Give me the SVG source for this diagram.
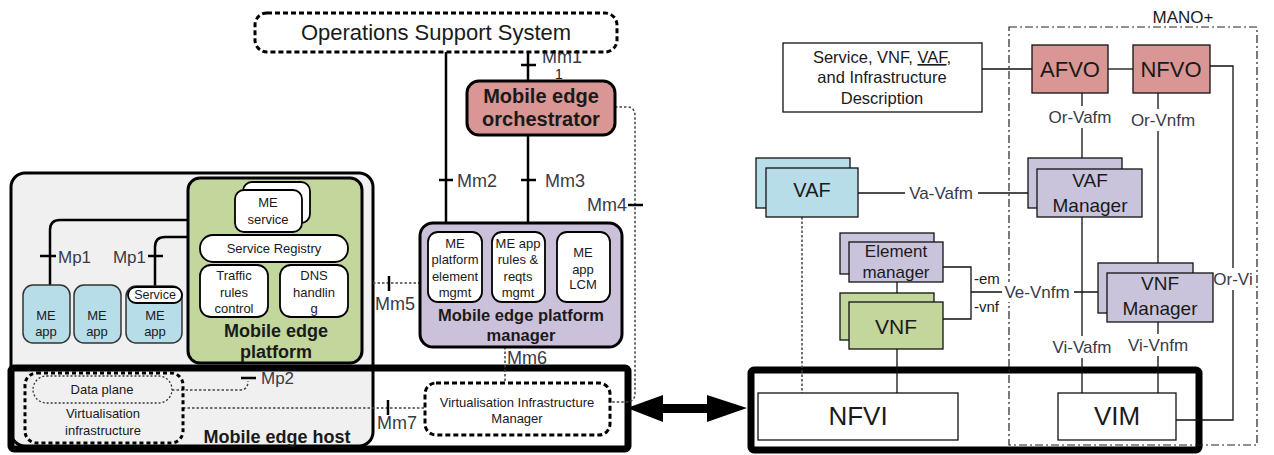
<svg xmlns="http://www.w3.org/2000/svg" width="1274" height="455" viewBox="0 0 1274 455">
<style>
text{font-family:"Liberation Sans",Arial,sans-serif;fill:#1a1a1a}
.lbl{font-size:18px;fill:#3a3a48}
.lbs{font-size:17px;fill:#3a3a48}
.rl{font-size:17px;fill:#3a3a48}
.b{font-weight:bold}
.c{text-anchor:middle}
.th{stroke:#000;stroke-width:2.5;fill:none}
.tn{stroke:#111;stroke-width:1.3;fill:none}
.dot{stroke:#444;stroke-width:1.5;fill:none;stroke-dasharray:2.5,2}
.wb{fill:#fff;stroke:#000;stroke-width:1.8}
.app{fill:#b7dde8;stroke:#333;stroke-width:1.5}
.lav{fill:#c9c4dc;stroke:#111;stroke-width:1.3}
.grn{fill:#c3d69b;stroke:#111;stroke-width:1.3}
.sal{fill:#d99694;stroke:#111;stroke-width:1.3}
.wr{fill:#fff;stroke:#111;stroke-width:1.3}
.bg{fill:#fff}
</style>

<!-- Mobile edge host background -->
<g id="me-host">
<rect x="11" y="173" width="362" height="273" rx="14" fill="#f0f0f0" stroke="#000" stroke-width="3"/>
<rect x="11" y="368" width="617" height="81" rx="3" fill="none" stroke="#000" stroke-width="7"/>
<text x="277" y="443" class="b c" font-size="18">Mobile edge host</text>
</g>

<g id="nfv-box">
<rect x="751" y="370" width="448" height="80" rx="3" fill="none" stroke="#000" stroke-width="7"/>
</g>

<g id="mano">
<rect x="1009" y="27" width="248" height="418" fill="none" stroke="#222" stroke-width="1.2" stroke-dasharray="8,3,2,3"/>
<text x="1183" y="23" class="c" font-size="17" fill="#222">MANO+</text>
</g>

<!-- connectors -->
<g id="connectors">
<!-- Mp1 -->
<path class="th" d="M188,220 H60 Q50,220 50,230 V286"/>
<line class="th" x1="40" y1="256" x2="56" y2="256"/>
<text x="58" y="263" class="lbs">Mp1</text>
<path class="th" d="M188,237 H165 Q155,237 155,247 V288"/>
<line class="th" x1="148" y1="256" x2="163" y2="256"/>
<text x="146" y="263" class="lbs" text-anchor="end">Mp1</text>
<!-- Mm1 -->
<line class="th" x1="528" y1="52" x2="528" y2="80"/>
<line class="th" x1="521" y1="65" x2="536" y2="65"/>
<text x="542" y="63" class="lbl">Mm1</text>
<text x="555" y="79" font-size="14" fill="#3a3a48">1</text>
<!-- Mm2 -->
<line class="th" x1="446" y1="52" x2="446" y2="224"/>
<line class="th" x1="439" y1="180" x2="453" y2="180"/>
<text x="457" y="187" class="lbl">Mm2</text>
<!-- Mm3 -->
<line class="th" x1="528" y1="135" x2="528" y2="224"/>
<line class="th" x1="521" y1="180" x2="536" y2="180"/>
<text x="545" y="187" class="lbl">Mm3</text>
<!-- Mm4 -->
<path class="dot" d="M615,107 H627 Q635,107 635,116 V393 Q635,402 626,402 H610"/>
<line class="th" x1="628" y1="205" x2="643" y2="205"/>
<text x="627" y="211" class="lbl" text-anchor="end">Mm4</text>
<!-- Mm5 -->
<path class="dot" d="M373,283 H420"/>
<line class="th" x1="389" y1="276" x2="389" y2="291"/>
<text x="375" y="310" class="lbl">Mm5</text>
<!-- Mm6 -->
<path class="dot" d="M505,347 V383"/>
<text x="507" y="364" class="lbl">Mm6</text>
<!-- Mm7 -->
<path class="dot" d="M183,408 H425"/>
<line class="th" x1="388" y1="400" x2="388" y2="415"/>
<text x="377" y="429" class="lbl">Mm7</text>
<!-- Mp2 -->
<path class="dot" d="M172,390 H240 Q248,390 248,381"/>
<line class="th" x1="241" y1="378" x2="256" y2="378"/>
<text x="261" y="384" class="lbs">Mp2</text>
<!-- double arrow -->
<polygon points="627,408 663,395 663,404 707,404 707,395 747,408 707,422 707,413 663,413 663,422" fill="#000"/>

<!-- right side -->
<path class="tn" d="M982,69 H1032"/>
<path class="tn" d="M1108,69 H1133"/>
<path class="tn" d="M1210,66 H1233 V420 H1176"/>
<rect class="bg" x="1211" y="268" width="44" height="22"/>
<text x="1233" y="285" class="rl c">Or-Vi</text>
<path class="tn" d="M1082,93 V169"/>
<rect class="bg" x="1045" y="106" width="70" height="22"/>
<text x="1080" y="123" class="rl c">Or-Vafm</text>
<path class="tn" d="M1158,93 V273"/>
<rect class="bg" x="1128" y="109" width="70" height="22"/>
<text x="1163" y="126" class="rl c">Or-Vnfm</text>
<path class="tn" d="M858,193 H1028"/>
<rect class="bg" x="905" y="183" width="73" height="20"/>
<text x="941" y="199" class="rl c">Va-Vafm</text>
<path class="tn" d="M1082,217 V393"/>
<rect class="bg" x="1048" y="336" width="68" height="22"/>
<text x="1082" y="353" class="rl c">Vi-Vafm</text>
<path class="tn" d="M1158,322 V393"/>
<rect class="bg" x="1125" y="334" width="67" height="22"/>
<text x="1158" y="351" class="rl c">Vi-Vnfm</text>
<path class="dot" d="M802,217 V393" stroke-dasharray="3,2"/>
<path class="tn" d="M897,282 V302"/>
<path class="tn" d="M897,349 V393"/>
<path class="tn" d="M943,267 H971 V319 H943"/>
<path class="tn" d="M971,292 H1098"/>
<rect class="bg" x="1002" y="282" width="72" height="20"/>
<text x="1037" y="298" class="rl c">Ve-Vnfm</text>
<text x="974" y="284" font-size="15" fill="#3a3a48">-em</text>
<text x="974" y="312" font-size="15" fill="#3a3a48">-vnf</text>
</g>

<g id="oss">
<rect x="255" y="13" width="362" height="39" rx="12" fill="none" stroke="#000" stroke-width="3" stroke-dasharray="5,3"/>
<text x="436" y="40" class="c" font-size="22">Operations Support System</text>
</g>

<g id="meo">
<rect x="467" y="81" width="148" height="54" rx="12" fill="#d99694" stroke="#000" stroke-width="3"/>
<text x="541" y="103" class="b c" font-size="20">Mobile edge</text>
<text x="541" y="126" class="b c" font-size="20">orchestrator</text>
</g>

<g id="me-platform">
<rect x="188" y="178" width="174" height="185" rx="12" fill="#c3d69b" stroke="#000" stroke-width="3"/>
<text x="276" y="337" class="b c" font-size="18">Mobile edge</text>
<text x="276" y="358" class="b c" font-size="18">platform</text>
</g>

<g id="me-service">
<rect class="wb" x="243" y="182" width="67" height="41" rx="9"/>
<rect class="wb" x="235" y="190" width="67" height="42" rx="9"/>
<text x="268" y="207" class="c" font-size="13">ME</text>
<text x="268" y="224" class="c" font-size="13">service</text>
</g>

<g id="service-registry">
<rect class="wb" x="200" y="235" width="148" height="27" rx="13"/>
<text x="274" y="253" class="c" font-size="13">Service Registry</text>
</g>

<g id="traffic-rules">
<rect class="wb" x="200" y="265" width="68" height="52" rx="11"/>
<text x="234" y="280" class="c" font-size="13">Traffic</text>
<text x="234" y="297" class="c" font-size="13">rules</text>
<text x="234" y="313" class="c" font-size="13">control</text>
</g>

<g id="dns">
<rect class="wb" x="280" y="265" width="68" height="52" rx="11"/>
<text x="314" y="280" class="c" font-size="13">DNS</text>
<text x="314" y="297" class="c" font-size="13">handlin</text>
<text x="314" y="313" class="c" font-size="13">g</text>
</g>

<g id="me-app-1">
<rect class="app" x="23" y="285" width="47" height="58" rx="10"/>
<text x="46" y="320" class="c" font-size="13">ME</text>
<text x="46" y="336" class="c" font-size="13">app</text>
</g>
<g id="me-app-2">
<rect class="app" x="74" y="285" width="47" height="58" rx="10"/>
<text x="97" y="320" class="c" font-size="13">ME</text>
<text x="97" y="336" class="c" font-size="13">app</text>
</g>
<g id="me-app-3">
<rect class="app" x="126" y="286" width="56" height="57" rx="10"/>
<rect class="wb" x="128" y="287" width="54" height="16" rx="8" stroke-width="1.3"/>
<text x="155" y="299" class="c" font-size="12.5">Service</text>
<text x="155" y="320" class="c" font-size="13">ME</text>
<text x="155" y="336" class="c" font-size="13">app</text>
</g>

<g id="virt-infra">
<rect x="25" y="373" width="158" height="70" rx="12" fill="none" stroke="#000" stroke-width="3" stroke-dasharray="4,3"/>
<rect x="33" y="376" width="139" height="27" rx="13.5" fill="none" stroke="#333" stroke-width="1.3" stroke-dasharray="2,2"/>
<text x="102" y="394" class="c" font-size="13">Data plane</text>
<text x="103" y="418" class="c" font-size="13">Virtualisation</text>
<text x="103" y="435" class="c" font-size="13">infrastructure</text>
</g>

<g id="mepm">
<rect x="420" y="223" width="202" height="124" rx="13" fill="#ccc1da" stroke="#000" stroke-width="3"/>
<rect class="wb" x="428" y="232" width="54" height="70" rx="10"/>
<text x="455" y="248" class="c" font-size="13">ME</text>
<text x="455" y="264" class="c" font-size="13">platform</text>
<text x="455" y="281" class="c" font-size="13">element</text>
<text x="455" y="297" class="c" font-size="13">mgmt</text>
<rect class="wb" x="492" y="232" width="53" height="70" rx="10"/>
<text x="518" y="248" class="c" font-size="13">ME app</text>
<text x="518" y="264" class="c" font-size="13">rules &amp;</text>
<text x="518" y="281" class="c" font-size="13">reqts</text>
<text x="518" y="297" class="c" font-size="13">mgmt</text>
<rect class="wb" x="557" y="232" width="53" height="70" rx="10"/>
<text x="583" y="257" class="c" font-size="13">ME</text>
<text x="583" y="274" class="c" font-size="13">app</text>
<text x="583" y="289" class="c" font-size="13">LCM</text>
<text x="521" y="321" class="b c" font-size="16.5">Mobile edge platform</text>
<text x="521" y="341" class="b c" font-size="16.5">manager</text>
</g>

<g id="vim-mec">
<rect x="425" y="383" width="185" height="52" rx="11" fill="#fff" stroke="#000" stroke-width="3" stroke-dasharray="5,3"/>
<text x="517" y="407" class="c" font-size="13" fill="#333">Virtualisation Infrastructure</text>
<text x="517" y="423" class="c" font-size="13" fill="#333">Manager</text>
</g>

<!-- right side nodes -->
<g id="description">
<rect class="wr" x="783" y="43" width="199" height="69"/>
<text x="882" y="63" class="c" font-size="16.5">Service, VNF, <tspan text-decoration="underline">VAF</tspan>,</text>
<text x="882" y="83" class="c" font-size="16.5">and Infrastructure</text>
<text x="882" y="104" class="c" font-size="16.5">Description</text>
</g>

<g id="afvo">
<rect class="sal" x="1032" y="45" width="76" height="48"/>
<text x="1070" y="77" class="c" font-size="22">AFVO</text>
</g>

<g id="nfvo">
<rect class="sal" x="1133" y="45" width="77" height="48"/>
<text x="1171" y="77" class="c" font-size="22">NFVO</text>
</g>

<g id="vaf">
<rect x="756" y="158" width="94" height="50" fill="#b7dde8" stroke="#111" stroke-width="1.3"/>
<rect x="766" y="168" width="92" height="49" fill="#b7dde8" stroke="#111" stroke-width="1.3"/>
<text x="812" y="197" class="c" font-size="20">VAF</text>
</g>

<g id="vaf-manager">
<rect class="lav" x="1028" y="158" width="94" height="50"/>
<rect class="lav" x="1037" y="169" width="105" height="48"/>
<text x="1090" y="187" class="c" font-size="19">VAF</text>
<text x="1090" y="212" class="c" font-size="19">Manager</text>
</g>

<g id="element-manager">
<rect class="lav" x="840" y="233" width="94" height="41"/>
<rect class="lav" x="849" y="242" width="94" height="40"/>
<text x="896" y="257" class="c" font-size="17">Element</text>
<text x="896" y="278" class="c" font-size="17">manager</text>
</g>

<g id="vnf">
<rect class="grn" x="840" y="293" width="94" height="47"/>
<rect class="grn" x="849" y="302" width="94" height="47"/>
<text x="896" y="334" class="c" font-size="21">VNF</text>
</g>

<g id="vnf-manager">
<rect class="lav" x="1098" y="263" width="95" height="50"/>
<rect class="lav" x="1107" y="273" width="106" height="49"/>
<text x="1160" y="290" class="c" font-size="19">VNF</text>
<text x="1160" y="315" class="c" font-size="19">Manager</text>
</g>

<g id="nfvi">
<rect class="wr" x="758" y="393" width="200" height="47"/>
<text x="858" y="425" class="c" font-size="26">NFVI</text>
</g>

<g id="vim">
<rect class="wr" x="1058" y="393" width="118" height="47"/>
<text x="1117" y="425" class="c" font-size="26">VIM</text>
</g>
</svg>
